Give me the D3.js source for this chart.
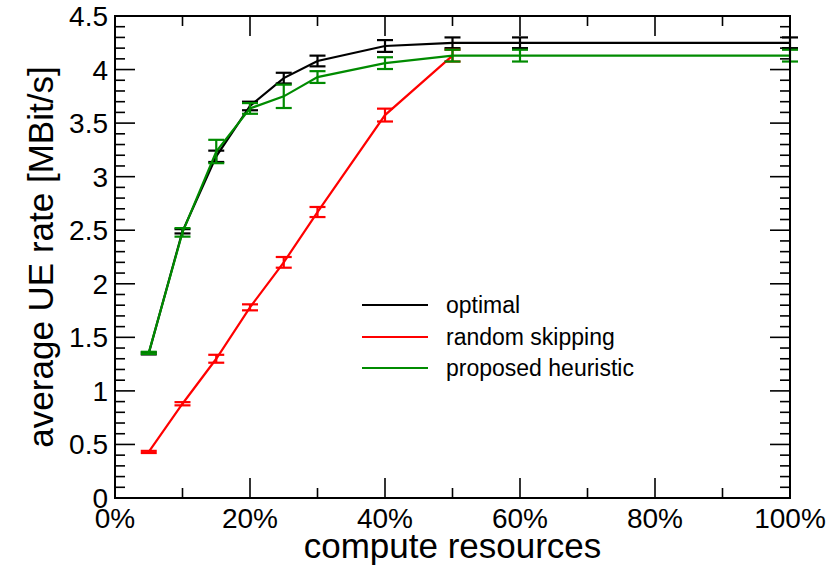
<!DOCTYPE html>
<html>
<head>
<meta charset="utf-8">
<script src="https://cdn.jsdelivr.net/npm/d3@7"></script>
<style>
  html, body { margin: 0; padding: 0; background: #fff; }
  svg { display: block; font-family: "Liberation Sans", Arial, Helvetica, sans-serif; }
</style>
</head>
<body>
<svg id="chart" width="839" height="567"></svg>
<script>
// ---- data ----
const xPercent = [5, 10, 15, 20, 25, 30, 40, 50, 60, 100];
const optimal      = [1.35, 2.49, 3.19, 3.66, 3.92, 4.08, 4.22, 4.25, 4.25, 4.25];
const optimalErr   = [0.01, 0.02, 0.053, 0.04, 0.05, 0.05, 0.055, 0.05, 0.05, 0.05];
const randomSkip   = [0.43, 0.88, 1.30, 1.78, 2.20, 2.67, 3.575, 4.13];
const randomErr    = [0.01, 0.015, 0.037, 0.028, 0.05, 0.047, 0.06, 0.055];
const heuristic    = [1.355, 2.48, 3.235, 3.637, 3.75, 3.93, 4.06, 4.13, 4.13, 4.13];
const heuristicErr = [0.01, 0.04, 0.109, 0.05, 0.109, 0.055, 0.055, 0.055, 0.055, 0.055];
const xTickValues  = [0, 20, 40, 60, 80, 100];
const xTickLabels  = ["0%", "20%", "40%", "60%", "80%", "100%"];
const yTickValues  = [0, 0.5, 1, 1.5, 2, 2.5, 3, 3.5, 4, 4.5];
const yTickLabels  = ["0", "0.5", "1", "1.5", "2", "2.5", "3", "3.5", "4", "4.5"];
const seriesNames  = ["optimal", "random skipping", "proposed heuristic"];
const seriesColors = ["#000000", "#ff0000", "#008b00"];
const xTitle = "compute resources";
const yTitle = "average UE rate [MBit/s]";

// ---- layout ----
const L = 115, R = 790, T = 16, B = 498;
const svg = d3.select("#chart");
const x = d3.scaleLinear().domain([0, 100]).range([L, R]);
const y = d3.scaleLinear().domain([0, 4.5]).range([B, T]);

// ticks (inside, mirrored)
const g = svg.append("g").attr("stroke", "#000").attr("stroke-width", 1.6);
const xMinor = d3.range(0, 101, 10);
const yMinor = d3.range(0, 45.01, 1).map(v => v / 10);
xMinor.forEach(v => {
  const major = xTickValues.includes(v);
  const len = major ? 20 : 10;
  g.append("line").attr("x1", x(v)).attr("x2", x(v)).attr("y1", B).attr("y2", B - len);
  g.append("line").attr("x1", x(v)).attr("x2", x(v)).attr("y1", T).attr("y2", T + len);
});
yMinor.forEach(v => {
  const major = yTickValues.some(t => Math.abs(t - v) < 1e-9);
  const len = major ? 20 : 10;
  g.append("line").attr("x1", L).attr("x2", L + len).attr("y1", y(v)).attr("y2", y(v));
  g.append("line").attr("x1", R).attr("x2", R - len).attr("y1", y(v)).attr("y2", y(v));
});

// tick labels
svg.append("g").selectAll("text").data(xTickValues).join("text")
  .attr("x", d => x(d)).attr("y", 528)
  .attr("text-anchor", "middle").attr("font-size", 28)
  .text((d, i) => xTickLabels[i]);
svg.append("g").selectAll("text").data(yTickValues).join("text")
  .attr("x", 108).attr("y", d => y(d) + 10)
  .attr("text-anchor", "end").attr("font-size", 28)
  .text((d, i) => yTickLabels[i]);

// titles
svg.append("text").attr("x", (L + R) / 2).attr("y", 558)
  .attr("text-anchor", "middle").attr("font-size", 35).text(xTitle);
svg.append("text").attr("transform", `translate(53,${(T + B) / 2}) rotate(-90)`)
  .attr("text-anchor", "middle").attr("font-size", 35).text(yTitle);

// series
const series = [
  { vals: optimal, errs: optimalErr, color: seriesColors[0] },
  { vals: randomSkip, errs: randomErr, color: seriesColors[1] },
  { vals: heuristic, errs: heuristicErr, color: seriesColors[2] }
];
const line = d3.line().x(d => x(d[0])).y(d => y(d[1]));
series.forEach(s => {
  const pts = s.vals.map((v, i) => [xPercent[i], v, s.errs[i]]);
  const sg = svg.append("g");
  sg.append("path").attr("d", line(pts)).attr("fill", "none")
    .attr("stroke", s.color).attr("stroke-width", 2.2);
  pts.forEach(p => {
    const cx = x(p[0]), y1 = y(p[1] + p[2]), y2 = y(p[1] - p[2]);
    sg.append("line").attr("x1", cx).attr("x2", cx).attr("y1", y1).attr("y2", y2)
      .attr("stroke", s.color).attr("stroke-width", 2.2);
    [y1, y2].forEach(yy => sg.append("line")
      .attr("x1", cx - 8).attr("x2", cx + 8).attr("y1", yy).attr("y2", yy)
      .attr("stroke", s.color).attr("stroke-width", 2.2));
  });
});

// frame
svg.append("rect").attr("x", L).attr("y", T).attr("width", R - L).attr("height", B - T)
  .attr("fill", "none").attr("stroke", "#000").attr("stroke-width", 2);

// legend
const legY = [305, 337, 368];
seriesNames.forEach((n, i) => {
  svg.append("line").attr("x1", 362).attr("x2", 428).attr("y1", legY[i]).attr("y2", legY[i])
    .attr("stroke", seriesColors[i]).attr("stroke-width", 2.2);
  svg.append("text").attr("x", 446).attr("y", legY[i] + 8).attr("font-size", 23).text(n);
});
</script>
</body>
</html>
